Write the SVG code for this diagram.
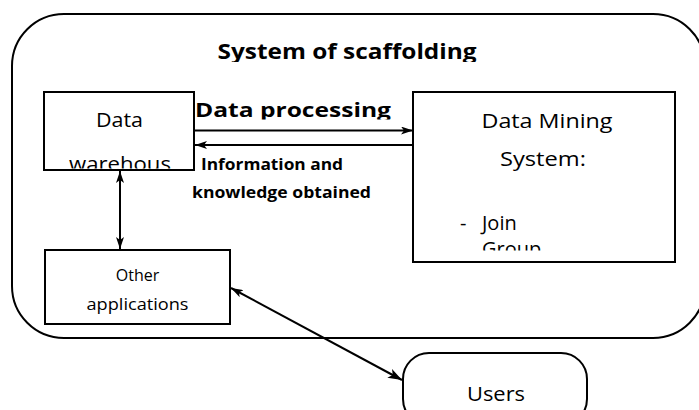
<svg xmlns="http://www.w3.org/2000/svg" width="699" height="410" viewBox="0 0 699 410">
  <style>
    .box { fill: #ffffff; stroke: #000000; stroke-width: 2; }
    .frame { fill: none; stroke: #000000; stroke-width: 2; }
    .link { fill: none; stroke: #000000; stroke-width: 2; }
    .txt { font-family: "Open Sans", "Liberation Sans", sans-serif; fill: #000000; }
    .bold { font-family: "Open Sans", "Liberation Sans", sans-serif; font-weight: bold; fill: #000000; }
  </style>
  <defs>
    <marker id="head" viewBox="0 0 12 8" refX="12" refY="4" markerWidth="12" markerHeight="8" markerUnits="userSpaceOnUse" orient="auto-start-reverse">
      <path d="M0,0 L12,4 L0,8 L3,4 Z" fill="#000000"/>
    </marker>
    <marker id="headBig" viewBox="0 0 14 10" refX="14" refY="5" markerWidth="14" markerHeight="10" markerUnits="userSpaceOnUse" orient="auto">
      <path d="M0,0 L14,5 L0,10 L3.5,5 Z" fill="#000000"/>
    </marker>
    <clipPath id="clipTitle"><rect x="150" y="20" width="400" height="42"/></clipPath>
    <clipPath id="clipProc"><rect x="190" y="90" width="220" height="29.5"/></clipPath>
    <clipPath id="clipWarehouse"><rect x="45" y="93" width="148" height="75.5"/></clipPath>
    <clipPath id="clipMining"><rect x="414" y="93" width="260" height="157.5"/></clipPath>
  </defs>

  <!-- enclosing system frame -->
  <g id="system">
    <rect class="frame" x="12" y="14" width="693" height="324" rx="52" ry="52"/>
    <text class="bold" x="347" y="59" font-size="22" text-anchor="middle" textLength="259" lengthAdjust="spacingAndGlyphs" clip-path="url(#clipTitle)">System of scaffolding</text>
  </g>

  <!-- connectors -->
  <g id="connectors">
    <line class="link" x1="194" y1="130.5" x2="413" y2="130.5" marker-end="url(#head)"/>
    <line class="link" x1="413" y1="145" x2="195" y2="145" marker-end="url(#head)"/>
    <line class="link" x1="120" y1="171" x2="120" y2="249" marker-start="url(#head)" marker-end="url(#head)"/>
    <line class="link" x1="231" y1="288" x2="402" y2="380" marker-start="url(#head)" marker-end="url(#headBig)"/>
    <text class="bold" x="195" y="116.5" font-size="20" textLength="196" lengthAdjust="spacingAndGlyphs" clip-path="url(#clipProc)">Data processing</text>
    <text class="bold" x="201" y="170" font-size="16" textLength="142" lengthAdjust="spacingAndGlyphs">Information and</text>
    <text class="bold" x="192" y="198" font-size="16" textLength="179" lengthAdjust="spacingAndGlyphs">knowledge obtained</text>
  </g>

  <!-- data warehouse -->
  <g id="warehouse">
    <rect class="box" x="44" y="92" width="150" height="78"/>
    <g clip-path="url(#clipWarehouse)">
      <text class="txt" x="119.5" y="127" font-size="20" text-anchor="middle" textLength="47" lengthAdjust="spacingAndGlyphs">Data</text>
      <text class="txt" x="120" y="171" font-size="20" text-anchor="middle" textLength="102" lengthAdjust="spacingAndGlyphs">warehous</text>
    </g>
  </g>

  <!-- data mining system -->
  <g id="mining">
    <rect class="box" x="413" y="92" width="262" height="170"/>
    <g clip-path="url(#clipMining)">
      <text class="txt" x="547" y="128" font-size="20" text-anchor="middle" textLength="131" lengthAdjust="spacingAndGlyphs">Data Mining</text>
      <text class="txt" x="543" y="166" font-size="20" text-anchor="middle" textLength="86" lengthAdjust="spacingAndGlyphs">System:</text>
      <text class="txt" x="460" y="230" font-size="20">-</text>
      <text class="txt" x="482" y="230" font-size="20">Join</text>
      <text class="txt" x="482" y="256" font-size="20">Group</text>
    </g>
  </g>

  <!-- other applications -->
  <g id="other">
    <rect class="box" x="45" y="250" width="185" height="74"/>
    <text class="txt" x="137.5" y="281" font-size="16" text-anchor="middle">Other</text>
    <text class="txt" x="137.5" y="310" font-size="16" text-anchor="middle" textLength="102" lengthAdjust="spacingAndGlyphs">applications</text>
  </g>

  <!-- users -->
  <g id="users">
    <rect class="box" x="403" y="353" width="184" height="72" rx="26" ry="26"/>
    <text class="txt" x="496" y="401" font-size="20" text-anchor="middle" textLength="58" lengthAdjust="spacingAndGlyphs">Users</text>
  </g>
</svg>
